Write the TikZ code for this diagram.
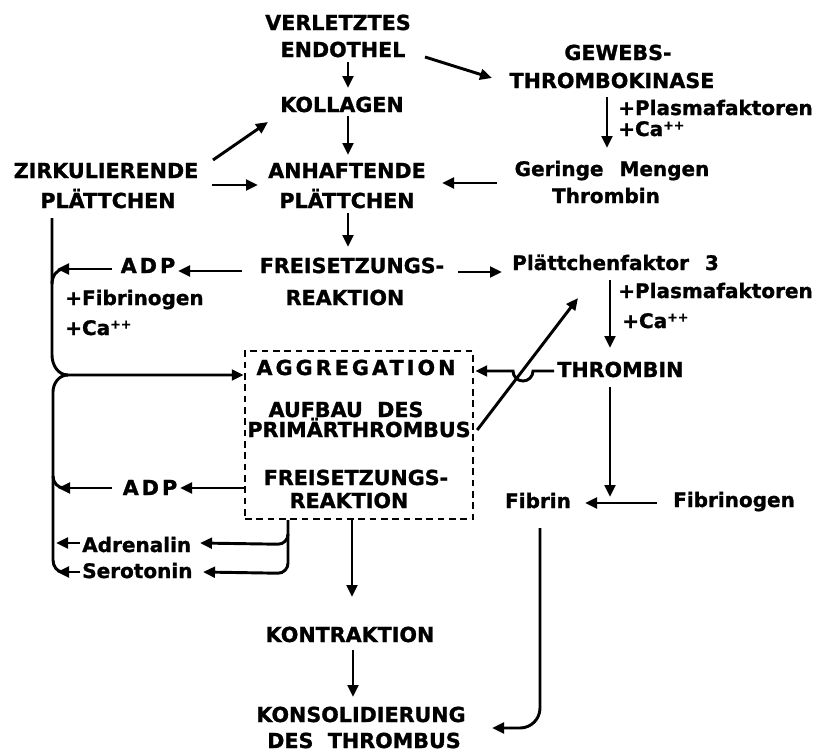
\documentclass[tikz,border=0pt]{standalone}
\usepackage{fontspec}
\setmainfont{DejaVu Sans}[BoldFeatures={FakeBold=1.2}]
\newfontfamily\spacedfont{DejaVu Sans}[LetterSpace=15,BoldFeatures={FakeBold=1.2}]
\usetikzlibrary{arrows.meta}
\newcommand\myplusplus{\raisebox{0.32em}{\fontsize{9.5}{9.5}\selectfont ++}}
\begin{document}
\begin{tikzpicture}[x=0.75pt,y=0.75pt,
  up/.style={font=\bfseries\fontsize{15.5}{18}\selectfont, inner sep=0pt, anchor=base},
  lo/.style={font=\bfseries\fontsize{15}{17}\selectfont, inner sep=0pt, anchor=base},
  lbl/.style={lo, anchor=base west},
  arr/.style={line width=2.2pt, -{Triangle[length=9pt,width=8pt]}},
  ln/.style={line width=2.2pt},
  dbox/.style={draw, line width=1.8pt, dash pattern=on 5pt off 3.5pt, inner sep=0pt}]
\fill[white] (0,0) rectangle (824,-753);
\useasboundingbox (0,0) rectangle (824,-753);
% nodes
\node[up] (verl) at (338,-30) {VERLETZTES};
\node[up] (endo) at (343,-57) {ENDOTHEL};
\node[up] (koll) at (342,-112) {KOLLAGEN};
\node[up] (anh1) at (347,-178) {ANHAFTENDE};
\node[up] (anh2) at (347,-208) {PLÄTTCHEN};
\node[up] (zirk1) at (106,-178) {ZIRKULIERENDE};
\node[up] (zirk2) at (108,-208) {PLÄTTCHEN};
\node[up] (gew1) at (618,-60) {GEWEBS-};
\node[up] (gew2) at (612,-88) {THROMBOKINASE};
\node[lbl] (pfa1) at (618,-115) {+Plasmafaktoren};
\node[lbl] (ca1) at (618,-136) {+Ca\myplusplus};
\node[lo] (ger1) at (612,-176) {Geringe\hspace{0.8em}Mengen};
\node[lo] (ger2) at (606,-203) {Thrombin};
\node[up] (frei1) at (352,-273) {FREISETZUNGS-};
\node[up] (reak1) at (345,-305) {REAKTION};
\node[up] (adp1) at (148,-273) {\spacedfont ADP};
\node[lbl] (fib1) at (65,-305) {+Fibrinogen};
\node[lbl] (ca3) at (65,-335) {+Ca\myplusplus};
\node[lbl] (pf3) at (512,-270) {Plättchenfaktor\hspace{0.8em}3};
\node[lbl] (pfa2) at (618,-298) {+Plasmafaktoren};
\node[lbl] (ca2) at (622,-328) {+Ca\myplusplus};
\node[up, anchor=base west] (thr) at (557,-377) {THROMBIN};
\node[dbox, minimum width=171pt, minimum height=126pt] (box) at (359,-435) {};
\node[up] (agg) at (356,-375) {\spacedfont AGGREGATION};
\node[up] (auf1) at (346,-417) {AUFBAU\hspace{0.7em}DES};
\node[up] (auf2) at (359,-437) {PRIMÄRTHROMBUS};
\node[up] (frei2) at (356,-485) {FREISETZUNGS-};
\node[up] (reak2) at (349,-508) {REAKTION};
\node[up] (adp2) at (150,-495) {\spacedfont ADP};
\node[lbl] (adr) at (82,-552) {Adrenalin};
\node[lbl] (ser) at (82,-578) {Serotonin};
\node[lo] (fibrin) at (538,-508) {Fibrin};
\node[lo] (fibg) at (734,-507) {Fibrinogen};
\node[up] (kontr) at (350,-642) {KONTRAKTION};
\node[up] (kons1) at (361,-722) {KONSOLIDIERUNG};
\node[up] (kons2) at (364,-748) {DES\hspace{0.7em}THROMBUS};
\coordinate (jn) at (68,-375);
% connectors
\draw[arr] ([shift={(5,-5)}]endo.base) -- ([shift={(6,24)}]koll.base);
\draw[arr] ([shift={(6,-4)}]koll.base) -- ([shift={(1,23)}]anh1.base);
\draw[arr] ([shift={(107,18)}]zirk1.base) -- ([shift={(-74,-10)}]koll.base);
\draw[arr] ([shift={(106,-7)}]zirk1.base) -- ([shift={(-89,-7)}]anh1.base);
\draw[arr] ([shift={(82,0)}]endo.base) -- ([shift={(-120,10)}]gew2.base);
\draw[arr] ([shift={(-5,-9)}]gew2.base) -- ([shift={(-5,28)}]ger1.base);
\draw[arr] ([shift={(-115,-7)}]ger1.base) -- ([shift={(95,-5)}]anh1.base);
\draw[arr] ([shift={(1,-5)}]anh2.base) -- ([shift={(-4,26)}]frei1.base);
\draw[arr] ([shift={(-110,2)}]frei1.base) -- ([shift={(30,2)}]adp1.base);
\draw[arr] ([shift={(-36,4)}]adp1.base) -- ([shift={(-91,4)}]adp1.base);
\draw[ln] ([shift={(-96,-11)}]adp1.base) to[out=90,in=180] ++(12,15);
\draw[arr] ([shift={(-56,-10)}]zirk2.base) -- ++(0,-137) to[out=-90,in=180] ++(16,-20) -- (box.west |- agg.base);
\draw[ln] (jn) to[out=180,in=90] ++(-15,-17) -- ++(0,-168) to[out=-90,in=180] ++(10,-12);
\draw[arr] ([shift={(106,1)}]frei1.base) -- ([shift={(-10,-2)}]pf3.base west);
\draw[arr] ([shift={(98,-10)}]pf3.base west) -- ([shift={(53,29)}]thr.base west);
\draw[arr] ([shift={(-3,6)}]thr.base west) -- ++(-21,0) arc[start angle=0,end angle=-180,radius=10] -- ([shift={(1,64)}]box.east);
\draw[arr] ([shift={(3,5)}]box.east) -- ([shift={(66,-28)}]pf3.base west);
\draw[arr] ([shift={(53,-10)}]thr.base west) -- ([shift={(72,11)}]fibrin.base);
\draw[arr] ([shift={(-77,4)}]fibg.base) -- ([shift={(47,5)}]fibrin.base);
\draw[arr] ([shift={(2,-20)}]fibrin.base) -- ++(0,-180) to[out=-90,in=0] ++(-20,-20) -- ([shift={(131,-6)}]kons1.base);
\draw[arr] ([shift={(0,-53)}]box.west) -- ([shift={(30,7)}]adp2.base);
\draw[arr] ([shift={(-38,7)}]adp2.base) -- ([shift={(-92,7)}]adp2.base);
\draw[ln] ([shift={(-97,19)}]adp2.base) to[out=-90,in=180] ++(11,-12);
\draw[arr] ([shift={(-71,0)}]box.south) -- ++(0,-14) to[out=-90,in=0] ++(-10,-10) -- ([shift={(118,9)}]adr.base west);
\draw[arr] ([shift={(-71,-14)}]box.south) -- ++(0,-29) to[out=-90,in=0] ++(-10,-10) -- ([shift={(121,6)}]ser.base west);
\draw[arr] ([shift={(-2,9)}]adr.base west) -- ([shift={(-26,9)}]adr.base west);
\draw[arr] ([shift={(-2,6)}]ser.base west) -- ([shift={(-25,6)}]ser.base west);
\draw[arr] ([shift={(-7,0)}]box.south) -- ([shift={(2,45)}]kontr.base);
\draw[arr] ([shift={(3,-8)}]kontr.base) -- ([shift={(-8,25)}]kons1.base);
\end{tikzpicture}
\end{document}
